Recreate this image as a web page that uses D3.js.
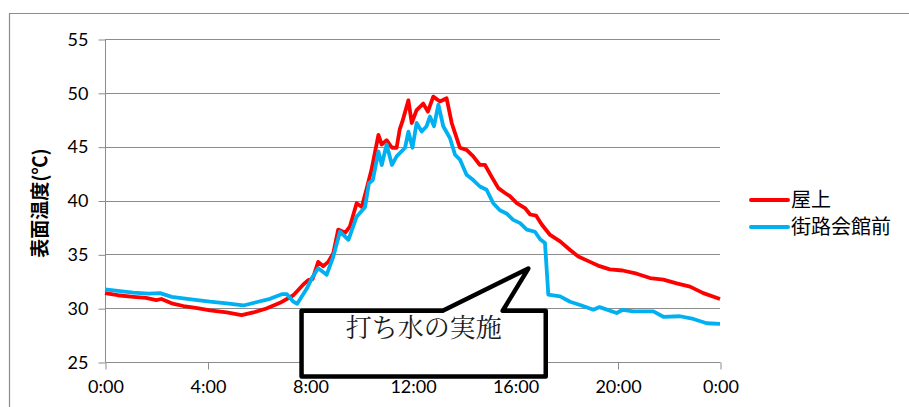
<!DOCTYPE html>
<html>
<head>
<meta charset="utf-8">
<script src="https://cdn.jsdelivr.net/npm/d3@7"></script>
<style>
  html, body { margin: 0; padding: 0; background: #fff; }
  svg { display: block; }
</style>
</head>
<body>
<svg id="chart" width="909" height="407"></svg>
<script>
// ---- data ----
const seriesNames = ["屋上", "街路会館前"];
const seriesColors = ["#FF0000", "#00B0F0"];
const yTicks = [25, 30, 35, 40, 45, 50, 55];
const xTicks = [0, 4, 8, 12, 16, 20, 24];
const xTickLabels = ["0:00", "4:00", "8:00", "12:00", "16:00", "20:00", "0:00"];

// 屋上 (hours, °C)
const roofHours = [0, 0.5, 1.1, 1.6, 2.0, 2.2, 2.6, 3.06, 3.6, 4.1, 4.75, 5.33, 5.79, 6.3, 6.83, 7.35, 7.74, 7.93, 8.1, 8.32, 8.52, 8.71, 8.91, 9.1, 9.37, 9.56, 9.82, 10.02, 10.2, 10.4, 10.67, 10.8, 10.99, 11.2, 11.38, 11.5, 11.6, 11.84, 11.97, 12.16, 12.42, 12.6, 12.81, 13.07, 13.33, 13.53, 13.66, 13.85, 14.11, 14.37, 14.63, 14.83, 15.09, 15.35, 15.61, 15.8, 16.07, 16.39, 16.59, 16.82, 17.05, 17.37, 17.76, 18.15, 18.47, 18.93, 19.3, 19.7, 20.2, 20.75, 21.27, 21.79, 22.31, 22.83, 23.35, 24];
const roofTemp  = [31.4, 31.2, 31.05, 30.95, 30.75, 30.85, 30.45, 30.2, 30.0, 29.8, 29.6, 29.35, 29.6, 29.97, 30.5, 31.2, 32.2, 32.6, 32.7, 34.3, 33.9, 34.3, 35.1, 37.3, 37.0, 37.6, 39.75, 39.4, 41.0, 42.85, 46.1, 45.2, 45.6, 44.9, 44.9, 46.6, 47.3, 49.3, 47.2, 48.4, 49.0, 48.25, 49.65, 49.2, 49.5, 47.2, 46.25, 44.9, 44.7, 44.1, 43.3, 43.3, 42.2, 41.15, 40.7, 40.4, 39.75, 39.3, 38.7, 38.6, 37.75, 36.8, 36.2, 35.4, 34.8, 34.3, 33.9, 33.6, 33.5, 33.2, 32.8, 32.65, 32.3, 32.0, 31.4, 30.85];

// 街路会館前 (hours, °C)
const streetHours = [0, 0.5, 1.1, 1.7, 2.15, 2.6, 3.06, 3.6, 4.1, 4.75, 5.4, 5.9, 6.44, 6.9, 7.1, 7.35, 7.5, 7.87, 8.1, 8.32, 8.65, 8.91, 9.17, 9.5, 9.82, 10.15, 10.3, 10.45, 10.67, 10.8, 10.99, 11.2, 11.38, 11.71, 11.84, 12.0, 12.16, 12.36, 12.55, 12.68, 12.84, 13.01, 13.2, 13.46, 13.66, 13.85, 14.11, 14.37, 14.63, 14.89, 15.15, 15.41, 15.67, 15.93, 16.2, 16.46, 16.78, 16.98, 17.17, 17.3, 17.76, 18.15, 18.54, 19.06, 19.3, 19.97, 20.2, 20.62, 21.4, 21.79, 22.44, 22.96, 23.48, 24];
const streetTemp  = [31.75, 31.6, 31.45, 31.35, 31.4, 31.05, 30.9, 30.75, 30.6, 30.45, 30.25, 30.55, 30.87, 31.3, 31.3, 30.6, 30.4, 31.8, 32.9, 33.7, 33.1, 34.8, 37.1, 36.35, 38.5, 39.4, 41.6, 41.9, 44.55, 43.3, 45.2, 43.3, 44.1, 44.9, 46.4, 44.9, 47.2, 46.4, 46.9, 47.8, 46.9, 48.9, 46.9, 45.8, 44.25, 43.8, 42.4, 41.9, 41.3, 41.0, 39.75, 39.1, 38.8, 38.2, 37.9, 37.3, 37.1, 36.4, 36.05, 31.25, 31.1, 30.6, 30.3, 29.85, 30.1, 29.55, 29.85, 29.7, 29.7, 29.2, 29.25, 29.0, 28.6, 28.55];

const yLabel = "表面温度(℃)";
const calloutText = "打ち水の実施";

// ---- drawing ----
const svg = d3.select("#chart");
const latin = "Lato, 'Open Sans', 'Noto Sans', sans-serif";
const cjk = "'Noto Sans CJK JP', 'Noto Sans CJK SC', sans-serif";

const x = d3.scaleLinear().domain([0, 24]).range([105, 720]);
const y = d3.scaleLinear().domain([25, 55]).range([362, 39]);

// outer chart border (top & left visible)
svg.append("path")
  .attr("d", "M9.5,407 L9.5,13.5 L909,13.5")
  .attr("fill", "none").attr("stroke", "#8c8c8c").attr("stroke-width", 1.2);

// gridlines
svg.append("g").selectAll("line").data(yTicks.slice(1)).join("line")
  .attr("x1", x(0)).attr("x2", x(24))
  .attr("y1", d => Math.round(y(d)) + 0.5).attr("y2", d => Math.round(y(d)) + 0.5)
  .attr("stroke", "#8c8c8c").attr("stroke-width", 1);

// y axis
const yAxis = svg.append("g")
  .attr("transform", `translate(${x(0) + 0.5},0.5)`)
  .call(d3.axisLeft(y).tickValues(yTicks).tickSize(7).tickPadding(10).tickFormat(d3.format("d")));
yAxis.select(".domain").attr("stroke", "#8c8c8c").attr("d", `M0,${Math.round(y(55))}V${Math.round(y(25))}`);
yAxis.selectAll(".tick line").attr("stroke", "#8c8c8c");
yAxis.selectAll(".tick text").attr("font-family", latin).attr("font-size", 18).attr("fill", "#000");

// x axis
const xAxis = svg.append("g")
  .attr("transform", `translate(0.5,${Math.round(y(25)) + 0.5})`)
  .call(d3.axisBottom(x).tickValues(xTicks).tickSize(7).tickPadding(11)
    .tickFormat((d, i) => xTickLabels[i]));
xAxis.select(".domain").attr("stroke", "#8c8c8c").attr("d", `M${x(0)},0H${x(24)}`);
xAxis.selectAll(".tick line").attr("stroke", "#8c8c8c");
xAxis.selectAll(".tick text").attr("font-family", latin).attr("font-size", 18).attr("fill", "#000");

// y axis title
svg.append("text")
  .attr("transform", `translate(47,203) rotate(-90)`)
  .attr("text-anchor", "middle")
  .attr("font-family", cjk).attr("font-weight", "bold").attr("font-size", 19)
  .text(yLabel);

// lines
const line = d3.line().x(d => x(d[0])).y(d => y(d[1]));
const seriesData = [
  d3.zip(roofHours, roofTemp),
  d3.zip(streetHours, streetTemp)
];
seriesData.forEach((data, i) => {
  svg.append("path").datum(data)
    .attr("d", line).attr("fill", "none")
    .attr("stroke", seriesColors[i]).attr("stroke-width", 3.8).attr("stroke-linejoin", "round");
});

// callout
const bx0 = x(7.67), bx1 = x(17.2), by0 = y(29.76), by1 = y(23.65);
const tip = [x(16.52), y(33.68)];
const p1 = x(13.18), p2 = x(15.52);
svg.append("path")
  .attr("d", `M${bx0},${by0} L${p1},${by0} L${tip[0]},${tip[1]} L${p2},${by0} L${bx1},${by0} L${bx1},${by1} L${bx0},${by1} Z`)
  .attr("fill", "#fff").attr("stroke", "#000").attr("stroke-width", 4.5)
  .attr("stroke-linejoin", "round");
svg.append("text")
  .attr("x", (bx0 + bx1) / 2).attr("y", 337)
  .attr("text-anchor", "middle")
  .attr("font-family", "'Noto Serif CJK JP', " + cjk).attr("font-weight", 400).attr("font-size", 26)
  .attr("fill", "#1a1a1a")
  .text(calloutText);

// legend
const legend = svg.append("g");
seriesNames.forEach((name, i) => {
  const ly = 200 + i * 27;
  legend.append("line")
    .attr("x1", 751).attr("x2", 788).attr("y1", ly).attr("y2", ly)
    .attr("stroke", seriesColors[i]).attr("stroke-width", 4).attr("stroke-linecap", "round");
  legend.append("text")
    .attr("x", 791).attr("y", ly + 7)
    .attr("font-family", cjk).attr("font-size", 20).attr("fill", "#000")
    .text(name);
});
</script>
</body>
</html>
